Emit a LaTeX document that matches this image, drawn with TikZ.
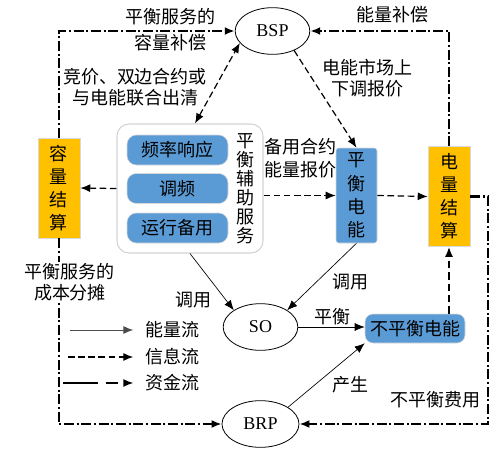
\documentclass[tikz,border=0pt]{standalone}
\usepackage{fontspec}
\setmainfont{Liberation Serif}
\newfontfamily\cjk{Noto Sans CJK SC}
\usepackage{tikz}
\usetikzlibrary{shapes.geometric,arrows.meta,positioning}
\definecolor{boxorange}{HTML}{FFC000}
\definecolor{boxblue}{HTML}{5B9BD5}

\tikzset{
  actor/.style={ellipse,draw,line width=0.6pt,inner sep=0pt,minimum width=56pt,minimum height=35pt,font=\rmfamily\fontsize{13.5}{16}\selectfont},
  settle/.style={draw=gray!30,fill=boxorange,inner sep=0pt,minimum width=31.5pt,minimum height=75pt,align=center,font=\cjk\fontsize{13.5}{17.3}\selectfont},
  service/.style={draw=gray!30,fill=boxblue,rounded corners=7pt,inner sep=0pt,minimum width=75.75pt,minimum height=22.5pt},
  lbl/.style={align=center,inner sep=1pt},
  energy/.style={line width=0.5pt,->},
  info/.style={line width=0.9pt,dash pattern=on 5pt off 2.6pt,->},
  money/.style={line width=1.6pt,dash pattern=on 7.5pt off 2pt on 1.5pt off 2pt,->},
  lgenergy/.style={draw=gray!60!black,line width=0.7pt},
  lginfo/.style={},
  lgmoney/.style={line width=1pt,dash pattern=on 26pt off 6pt on 9pt off 5pt}
}

\begin{document}
\begin{tikzpicture}[x=0.75pt,y=-0.75pt,>={Latex[length=7.5pt,width=6pt]},
  every node/.style={font=\cjk\fontsize{13.5}{16}\selectfont}]

\useasboundingbox (0,0) rectangle (497,457);

% actors
\node[actor] (bsp) at (272.5,31) {BSP};
\node[actor] (so) at (260.5,327) {SO};
\node[actor,minimum width=57.75pt] (brp) at (260.5,424) {BRP};

% settlement boxes
\node[settle] (cap) at (59,188) {容\\量\\结\\算};
\node[settle] (ene) at (449,196.5) {电\\量\\结\\算};
\node[settle,fill=boxblue,rounded corners=2pt,minimum width=30.75pt,minimum height=71.25pt,font=\cjk\fontsize{13.5}{17.6}\selectfont] (bal) at (356.5,195.5) {平\\衡\\电\\能};

% balancing ancillary services
\node[draw=gray!35,line width=0.8pt,rounded corners=9pt,minimum width=109.5pt,minimum height=96.75pt] (grp) at (190,188.5) {};
\node[service] (fr) at (177.5,150) {频率响应};
\node[service] (tf) at (177.5,188.5) {调频};
\node[service] (yb) at (177.5,228) {运行备用};
\node[align=center,inner sep=0pt,font=\cjk\fontsize{13.5}{14.3}\selectfont] (grptxt) at (245.5,189) {平\\衡\\辅\\助\\服\\务};

\node[service,minimum width=75pt,minimum height=21.75pt,rounded corners=6pt] (unb) at (415,328.5) {不平衡电能};

% money flows
\coordinate (rc) at (488,424);
\draw[money] (cap.north) |- (bsp.west);
\draw[money] (ene.north) |- (bsp.east);
\draw[money] (ene.east) -| (rc) -- (brp.east);
\draw[money] (cap.south) |- (brp.west);

% information flows
\draw[info,<->] ([xshift=3.75pt]grp.north) -- (bsp.200);
\draw[info] (grp.west) -- (cap.east);
\draw[info] (grp.east |- bal.west) -- (bal.west);
\draw[info] (bsp.318) -- (bal.north);
\draw[info] (bal.east) -- (ene.west);
\draw[info,line width=1.4pt,dash pattern=on 5.5pt off 3pt] (ene.south |- unb.north) -- (ene.south);

% energy flows
\draw[energy] (grp.south) -- (so.north west);
\draw[energy] (bal.south) -- (so.north east);
\draw[energy] (so.east) -- (unb.west |- so.east);
\draw[energy] (brp.north east) -- (unb.south west);

% labels
\node[lbl] (capcomp) at (170,30) {平衡服务的\\[3.5pt]容量补偿};
\node[lbl] (enecomp) at (392,15) {能量补偿};
\node[lbl] (bid) at (135,87) {竞价、双边合约或\\与电能联合出清};
\node[lbl] (updown) at (367,78) {电能市场上\\下调报价};
\node[lbl] (resv) at (300,158) {备用合约\\[1.2pt]能量报价};
\node[lbl,fill=white] (costshare) at (70,282) {平衡服务的\\成本分摊};
\node[lbl] (call1) at (193,300) {调用};
\node[lbl] (call2) at (350,282) {调用};
\node[lbl] (balance) at (332,317) {平衡};
\node[lbl] (gen) at (350,385) {产生};
\node[lbl] (fee) at (435,400) {不平衡费用};

% legend
\foreach \st/\lg/\txt/\xs/\yy in {energy/lgenergy/能量流/70/330, info/lginfo/信息流/68/357, money/lgmoney/资金流/63/383}{
  \node[lbl,anchor=west] (lg\st) at (144,\yy) {\txt};
  \draw[\st,\lg] (\xs,\yy) -- ([xshift=-8pt]lg\st.west);
}
\end{tikzpicture}
\end{document}
